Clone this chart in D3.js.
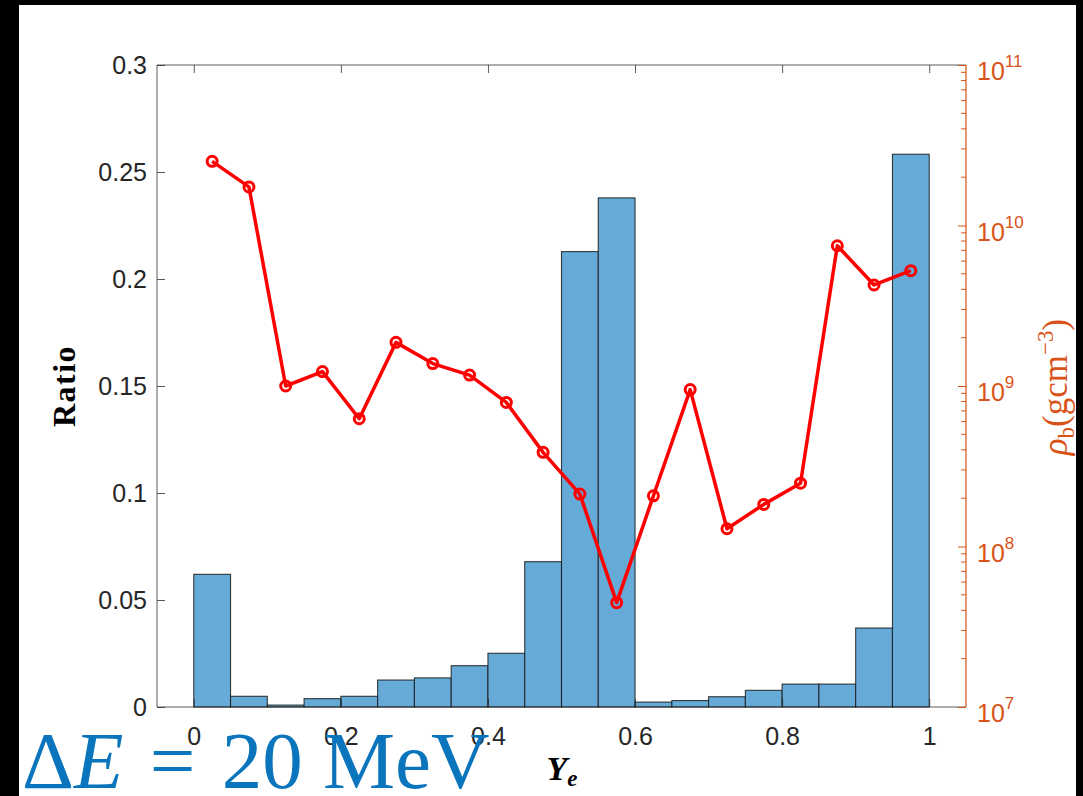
<!DOCTYPE html>
<html><head><meta charset="utf-8">
<script src="https://cdn.jsdelivr.net/npm/d3@7"></script>
<style>body{margin:0;background:#000;overflow:hidden} svg{display:block}</style>
</head><body>
<svg id="chart" width="1083" height="796"></svg>
<script>
const binStart  = [0,0.05,0.1,0.15,0.2,0.25,0.3,0.35,0.4,0.45,0.5,0.55,0.6,0.65,0.7,0.75,0.8,0.85,0.9,0.95];
const binEnd    = [0.05,0.1,0.15,0.2,0.25,0.3,0.35,0.4,0.45,0.5,0.55,0.6,0.65,0.7,0.75,0.8,0.85,0.9,0.95,1];
const binCenter = [0.025,0.075,0.125,0.175,0.225,0.275,0.325,0.375,0.425,0.475,0.525,0.575,0.625,0.675,0.725,0.775,0.825,0.875,0.925,0.975];
const ratio     = [0.062,0.005,0.0009,0.0039,0.005,0.0126,0.0136,0.0193,0.0251,0.0679,0.2128,0.2379,0.0023,0.003,0.0048,0.0078,0.0107,0.0107,0.0369,0.2583];
const density   = [2.51e10,1.74e10,1.0e9,1.23e9,6.25e8,1.87e9,1.38e9,1.17e9,7.9e8,3.86e8,2.12e8,4.47e7,2.07e8,9.5e8,1.29e8,1.83e8,2.48e8,7.48e9,4.26e9,5.23e9];
const ratioTicks = [0,0.05,0.1,0.15,0.2,0.25,0.3];
const ratioTickLabels = ["0","0.05","0.1","0.15","0.2","0.25","0.3"];
const yeTicks = [0,0.2,0.4,0.6,0.8,1];
const yeTickLabels = ["0","0.2","0.4","0.6","0.8","1"];
const densityTicks = [1e7,1e8,1e9,1e10,1e11];
const densityExp = ["7","8","9","10","11"];

const svg = d3.select("#chart");
const L = 157, R = 966, T = 65, B = 707;
const axisCol = "#262626", orange = "#D95319";

svg.append("rect").attr("width",1083).attr("height",796).attr("fill","#000");
svg.append("rect").attr("x",19).attr("y",5).attr("width",1057).attr("height",791).attr("fill","#fff");

const x = d3.scaleLinear().domain([-0.05,1.05]).range([L,R]);
const yL = d3.scaleLinear().domain([0,0.3]).range([B,T]);
const yR = d3.scaleLog().domain([1e7,1e11]).range([B,T]);

// bars
svg.append("g").selectAll("rect").data(ratio).join("rect")
  .attr("x",(d,i)=>x(binStart[i]))
  .attr("width",(d,i)=>x(binEnd[i])-x(binStart[i]))
  .attr("y",d=>yL(d))
  .attr("height",d=>yL(0)-yL(d))
  .attr("fill","#66AAD7")
  .attr("stroke","#1a1a1a").attr("stroke-opacity",0.85).attr("stroke-width",1.1);

const tickFont = "'Liberation Sans', Arial, Helvetica, sans-serif";

// left axis
const gL = svg.append("g").attr("transform",`translate(${L},0)`)
  .call(d3.axisLeft(yL).tickValues(ratioTicks).tickSize(-8).tickPadding(10)
    .tickFormat((d,i)=>ratioTickLabels[i]));
// bottom axis
const gB = svg.append("g").attr("transform",`translate(0,${B})`)
  .call(d3.axisBottom(x).tickValues(yeTicks).tickSize(-8).tickPadding(20)
    .tickFormat((d,i)=>yeTickLabels[i]));
// top axis
const gT = svg.append("g").attr("transform",`translate(0,${T})`)
  .call(d3.axisTop(x).tickValues(yeTicks).tickSize(-8).tickFormat(""));
[gL,gB,gT].forEach(g=>{
  g.select(".domain").attr("stroke",axisCol).attr("stroke-width",1).attr("stroke-opacity",0.75);
  g.selectAll(".tick line").attr("stroke",axisCol).attr("stroke-opacity",0.75);
  g.selectAll(".tick text").attr("fill",axisCol).attr("font-family",tickFont).attr("font-size",25);
});
gL.select(".domain").attr("d",`M0,${B}V${T}`);
gB.select(".domain").attr("d",`M${L},0H${R}`);
gT.select(".domain").attr("d",`M${L},0H${R}`);

// right axis (log)
const gR = svg.append("g").attr("transform",`translate(${R},0)`)
  .call(d3.axisRight(yR).tickValues(densityTicks).tickSize(-8).tickFormat(""));
gR.select(".domain").attr("d",`M0,${B}V${T}`).attr("stroke",orange).attr("stroke-width",1.2);
gR.selectAll(".tick line").attr("stroke",orange);
const minor = yR.ticks().filter(v=>!densityTicks.includes(v));
gR.append("g").selectAll("line").data(minor).join("line")
  .attr("x1",0).attr("x2",-5).attr("y1",d=>yR(d)).attr("y2",d=>yR(d))
  .attr("stroke",orange).attr("stroke-width",1);
const rl = gR.append("g").selectAll("text").data(densityTicks).join("text")
  .attr("x",11).attr("y",d=>yR(d)+15)
  .attr("fill",orange).attr("font-family",tickFont).attr("font-size",25);
rl.append("tspan").text("10");
rl.append("tspan").attr("dy",-13).attr("font-size",17).text((d,i)=>densityExp[i]);

// density line
const line = d3.line().x((d,i)=>x(binCenter[i])).y(d=>yR(d));
svg.append("path").datum(density).attr("d",line)
  .attr("fill","none").attr("stroke","#ff0000").attr("stroke-width",3.5).attr("stroke-linejoin","round");
svg.append("g").selectAll("circle").data(density).join("circle")
  .attr("cx",(d,i)=>x(binCenter[i])).attr("cy",d=>yR(d)).attr("r",5)
  .attr("fill","none").attr("stroke","#ff0000").attr("stroke-width",3);

const serif = "'Liberation Serif','Times New Roman',serif";
// y labels
svg.append("text").attr("transform","translate(75,386) rotate(-90)")
  .attr("text-anchor","middle").attr("font-family",serif).attr("font-weight","bold")
  .attr("font-size",32).attr("letter-spacing",1.5).attr("fill","#000").text("Ratio");
const rt = svg.append("text").attr("transform","translate(1067,387) rotate(-90)")
  .attr("text-anchor","middle").attr("font-family",serif).attr("font-size",35).attr("fill",orange);
rt.append("tspan").attr("font-style","italic").text("ρ");
rt.append("tspan").attr("font-size",23).attr("dy",7).text("b");
rt.append("tspan").attr("dy",-7).text("(gcm");
rt.append("tspan").attr("font-size",23).attr("dy",-14).text("−3");
rt.append("tspan").attr("dy",14).text(")");

// x label
const xl = svg.append("text").attr("x",562).attr("y",780).attr("text-anchor","middle")
  .attr("font-family",serif).attr("fill","#000");
xl.append("tspan").attr("font-size",34).attr("font-weight","bold").attr("font-style","italic").text("Y");
xl.append("tspan").attr("font-size",23).attr("font-weight","bold").attr("font-style","italic").attr("dy",6).text("e");

// annotation
const an = svg.append("text").attr("x",22).attr("y",788).attr("font-family",serif)
  .attr("font-size",81).attr("fill","#0A75BC").style("white-space","pre");
an.append("tspan").text("Δ");
an.append("tspan").attr("font-style","italic").text("E");
an.append("tspan").attr("dx",6).text(" = ");
an.append("tspan").attr("dx",6).text("20 MeV");
</script>
</body></html>
